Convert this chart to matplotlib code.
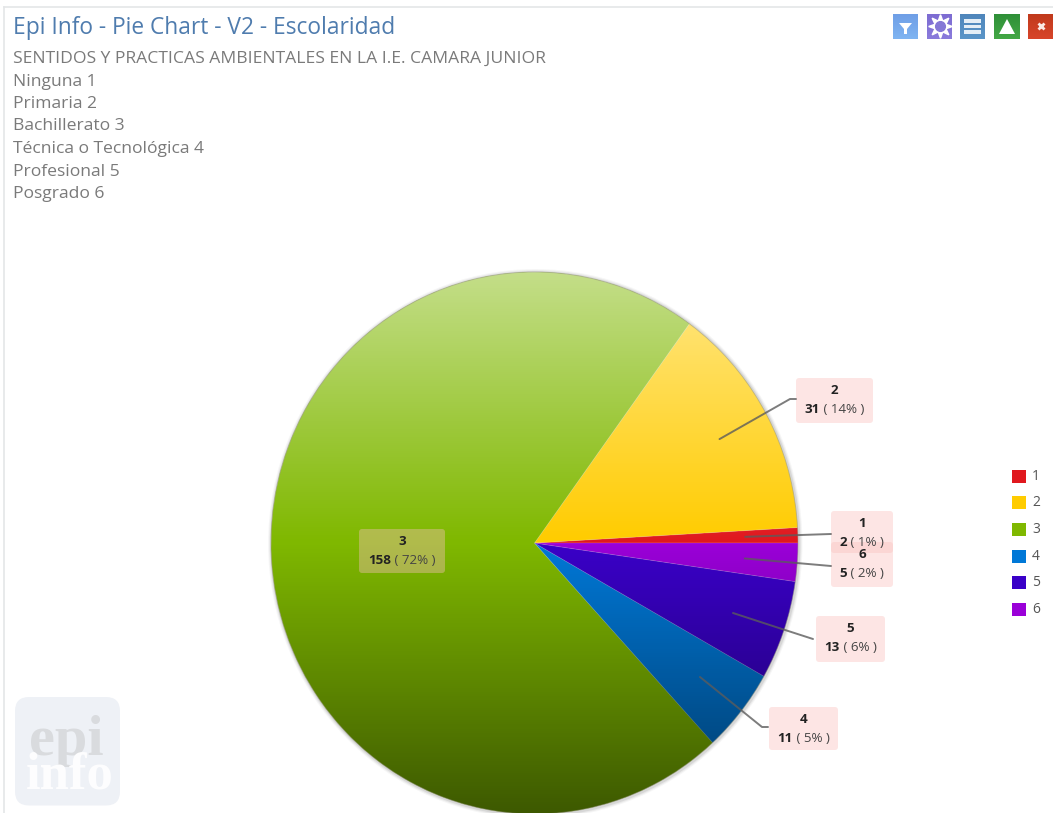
import numpy as np
import matplotlib
matplotlib.use("Agg")
import matplotlib.pyplot as plt
from matplotlib.patches import Rectangle, FancyBboxPatch, Polygon, Circle

plt.rcParams['font.family'] = ['Open Sans', 'DejaVu Sans']

# Datos del grafico
categorias = ["1", "2", "3", "4", "5", "6"]
valores = [2, 31, 158, 11, 13, 5]
porcentajes = ["1%", "14%", "72%", "5%", "6%", "2%"]
colores = ["#e0181e", "#ffcc00", "#7fb800", "#0078d7", "#3a00c8", "#9a00d8"]

titulo = "Epi Info - Pie Chart - V2 - Escolaridad"
lineas_sub = ["SENTIDOS Y PRACTICAS AMBIENTALES EN LA I.E. CAMARA JUNIOR",
              "Ninguna 1", "Primaria 2", "Bachillerato 3",
              "Técnica o Tecnológica 4", "Profesional 5", "Posgrado 6"]

W, H = 1053, 813
CX, CY, RX, RY = 534.5, 543, 263.5, 271

fig = plt.figure(figsize=(W / 100, H / 100), dpi=100, facecolor="white")

# Ejes de la torta: radio 1 en datos, elipse en pixeles
ax = fig.add_axes([0, 0, 1, 1])
wedges, _ = ax.pie(valores, colors=colores, startangle=0, counterclock=True, radius=1,
                   wedgeprops=dict(edgecolor=(1, 1, 1, 0.12), linewidth=0.7, zorder=3))
ax.set_aspect("auto")

# Sombra alrededor de la torta
for k, a in zip([0.014, 0.010, 0.006], [0.05, 0.08, 0.12]):
    ax.add_patch(Circle((0.003, -0.003), 1 + k, color="#555555", alpha=a, lw=0, zorder=1))

# Degradado vertical encima de los colores
yy = np.linspace(1, -1, 400)
rgba = np.zeros((400, 4))
rgba[yy > 0, :3] = 1
rgba[yy > 0, 3] = 0.54 * yy[yy > 0]
rgba[yy <= 0, 3] = 0.52 * -yy[yy <= 0]
im = ax.imshow(rgba[:, None, :], extent=(-1, 1, -1, 1), aspect="auto", zorder=4, interpolation="bilinear")
borde = Circle((0, 0), 1, transform=ax.transData, fill=False, ec="#8a8a70", lw=0.7, alpha=0.45, zorder=5)
ax.add_patch(borde)
im.set_clip_path(Circle((0, 0), 1, transform=ax.transData))
ax.set_xlim((0 - CX) / RX, (W - CX) / RX)
ax.set_ylim((CY - H) / RY, CY / RY)
ax.axis("off")

# Ejes en pixeles para textos, cajas e iconos
ov = fig.add_axes([0, 0, 1, 1], facecolor="none")
ov.set_xlim(0, W)
ov.set_ylim(H, 0)
ov.axis("off")

# Marco
ov.plot([3.5, W], [7.5, 7.5], color="#e4e6e8", lw=1.2)
ov.plot([3.5, 3.5], [7.5, H], color="#e4e6e8", lw=1.2)

ov.text(13, 27.5, titulo, fontsize=16.4, color="#4f7cae", va="center", ha="left")
for i, linea in enumerate(lineas_sub):
    ov.text(13, 63 + i * 22.5, linea, fontsize=12.6, color="#7a7a7a", va="baseline", ha="left")

# Logo
ov.add_patch(FancyBboxPatch((15, 697), 105, 108.5, boxstyle="round,pad=0,rounding_size=14", lw=0, fc="#eef1f6"))
ov.text(66, 755, "epi", family="Liberation Serif", fontsize=42, fontweight="bold", color="#d9dbde",
        ha="center", va="baseline")
ov.text(70, 788, "info", family="Liberation Serif", fontsize=38, fontweight="bold", color="#fdfdfe",
        ha="center", va="baseline")

# Cajas de etiquetas (izq, arriba, der, abajo)
cajas = [(831, 511, 893, 553), (796, 378, 873, 423), (359, 529, 445, 573),
         (769, 707, 838, 750), (816, 616, 885, 662), (831, 542, 893, 587)]
guias = [[(831, 534)], [(790, 399), (796, 399)], None,
         [(762, 727), (768, 727)], [(782, 629), (813, 639)], [(831, 566)]]
orden = [3, 1, 4, 0, 5, 2]


def a_pixel(r, ang):
    t = np.deg2rad(ang)
    return CX + RX * r * np.cos(t), CY - RY * r * np.sin(t)


rend = fig.canvas.get_renderer()
fs = 9.6
for i in orden:
    x0, y0, x1, y1 = cajas[i]
    w = wedges[i]
    if guias[i] is not None:
        ang = (w.theta1 + w.theta2) / 2
        ini = a_pixel(0.8, ang)
        if i == 3:
            ini = (700, 677)
        if i == 4:
            ini = (733, 613)
        pts = [ini] + guias[i]
        ov.plot([p[0] for p in pts], [p[1] for p in pts], color="#5c5c5c", lw=1.4, alpha=0.8, solid_capstyle="round")
    ov.add_patch(FancyBboxPatch((x0 + 3, y0 + 3), x1 - x0 - 6, y1 - y0 - 6,
                                boxstyle="round,pad=3,rounding_size=3", lw=0, fc="#fac0bc", alpha=0.4))
    xm = (x0 + x1) / 2
    ov.text(xm, y0 + 12, categorias[i], fontsize=fs, fontweight="bold", color="#222222", ha="center", va="center")
    t1 = ov.text(0, y0 + 31.5, str(valores[i]), fontsize=fs, fontweight="bold", color="#222222", ha="left", va="center")
    t2 = ov.text(0, y0 + 31.5, " ( %s )" % porcentajes[i], fontsize=fs, color="#444444", ha="left", va="center")
    a1 = t1.get_window_extent(rend).width
    a2 = t2.get_window_extent(rend).width
    t1.set_x(xm - (a1 + a2) / 2)
    t2.set_x(xm - (a1 + a2) / 2 + a1)

# Leyenda
for i, cat in enumerate(categorias):
    yc = 476 + i * 26.7
    ov.add_patch(Rectangle((1012, yc - 6.5), 14, 13, fc=colores[i], lw=0))
    ov.text(1032, yc, cat, fontsize=10, color="#555555", va="center", ha="left")


# Iconos de la barra
def icono(x0, x1, arriba, abajo):
    g = np.linspace(0, 1, 30)[:, None, None]
    c0 = np.array(matplotlib.colors.to_rgb(arriba))
    c1 = np.array(matplotlib.colors.to_rgb(abajo))
    ov.imshow(c0 * (1 - g) + c1 * g, extent=(x0, x1, 39, 14), aspect="auto", zorder=2)


icono(893, 918, "#6f9fe6", "#7fb4f2")
ov.add_patch(Polygon([(899, 23), (912, 23), (907, 29), (907, 34), (904, 34), (904, 29)], fc="white", lw=0, zorder=3))
icono(927, 952, "#7d6cd2", "#8a7bdc")
ov.plot([939.5], [26.5], marker=(8, 1, 0), ms=17, color="white", zorder=3)
ov.plot([939.5], [26.5], marker="o", ms=7, color="#8578d6", zorder=4)
icono(960, 985, "#4f86bb", "#5a95c8")
for yb in [21, 26.5, 32]:
    ov.add_patch(Rectangle((964, yb - 1.7), 17, 3.4, fc="#e4eef6", lw=0, zorder=3))
icono(994, 1020, "#2f8f38", "#43a845")
ov.add_patch(Polygon([(1007, 19), (1015, 34), (999, 34)], fc="white", lw=0, zorder=3))
icono(1028, W, "#c03a1c", "#d8452a")
ov.plot([1040.5], [26.5], marker="x", ms=5, mew=2, color="#fbe9e4", zorder=3)

ov.set_xlim(0, W)
ov.set_ylim(H, 0)

plt.savefig("out.png", dpi=100)
